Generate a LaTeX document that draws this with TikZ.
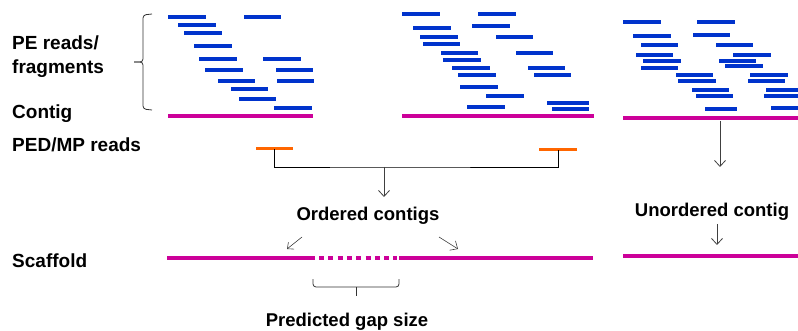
\documentclass[tikz,border=0pt]{standalone}
\usepackage{fontspec}
\setmainfont{Liberation Sans}
\usetikzlibrary{arrows.meta}
\usetikzlibrary{positioning}

\definecolor{readblue}{RGB}{0,51,204}
\definecolor{contigpink}{RGB}{204,0,153}
\definecolor{pairorange}{RGB}{255,102,0}

\tikzset{
  readline/.style={readblue,line width=3.2pt},
  contigline/.style={contigpink,line width=4pt},
  pairline/.style={pairorange,line width=3pt},
  sidelabel/.style={anchor=base west,inner sep=0pt,font=\bfseries\fontsize{19}{20}\selectfont},
  midlabel/.style={anchor=base,inner sep=0pt,font=\bfseries\fontsize{18.5}{20}\selectfont},
  flowarrow/.style={black!75,line width=0.8pt,-{Straight Barb[length=6pt,width=11pt]}},
  joinline/.style={black,line width=0.8pt},
  bracketline/.style={black!80,line width=0.8pt,rounded corners=3pt}
}

\begin{document}
\begin{tikzpicture}[x=1pt,y=-1pt]
\useasboundingbox (0,0) rectangle (798,331);

% labels on the left
\node[sidelabel] (pe) at (12,50){PE reads/};
\node[sidelabel] (frag) at (12,74){fragments};
\node[sidelabel] (ctg) at (12,119){Contig};
\node[sidelabel] (ped) at (12,152){PED/MP reads};
\node[sidelabel] (scf) at (12,268){Scaffold};

% bracket for the reads
\draw[bracketline] (152,14) -- (143,15) -- (143,62) -- (134,62);
\draw[bracketline] (152,110) -- (143,109) -- (143,62) -- (134,62);

% reads, first contig
\foreach \a/\b/\y in {168/206/17,244/281/17,178/216/25,184/222/33,194/232/46,199/237/59,263/301/59,205/243/70,276/313/70,218/255/81,277/314/81,231/268/89,239/276/99,274/312/108}
  \draw[readline] (\a,\y) -- (\b,\y);

% reads, second contig
\foreach \a/\b/\y in {402/440/14,478/516/14,413/451/28,472/510/26,420/458/37,496/533/37,423/460/44,441/478/53,516/553/53,443/481/60,452/490/68,528/565/68,458/496/75,534/571/75,460/498/87,486/524/96,547/589/103,467/505/107,552/589/109}
  \draw[readline] (\a,\y) -- (\b,\y);

% reads, third contig
\foreach \a/\b/\y in {623/661/22,697/735/22,633/671/36,693/730/35,641/678/45,716/753/45,636/673/55,733/771/55,643/681/61,719/756/61,641/678/68,725/763/66,676/713/75,750/788/75,678/716/81,748/785/81,692/729/90,766/800/90,696/733/96,764/800/96,705/737/109,771/800/108}
  \draw[readline] (\a,\y) -- (\b,\y);

% contigs
\draw[contigline] (168,116) -- (313,116);
\draw[contigline] (402,116) -- (594,116);
\draw[contigline] (623,118) -- (800,118);

% paired reads
\draw[pairline] (256,149) -- (293,149);
\draw[pairline] (539,150) -- (577,150);
\coordinate (pl) at (274,149);
\coordinate (pr) at (558,150);
\coordinate (pj) at (384,167);
\draw[joinline] (pl) |- (pj) -| (pr);

% ordered contigs
\node[midlabel] (oc) at (368,221){Ordered contigs};
\coordinate (ocin) at (384,197);
\draw[flowarrow] (pj) -- (ocin);

% scaffold
\draw[contigline] (167,258) -- (315,258);
\draw[contigline,dash pattern=on 5pt off 4.3pt] (319,258) -- (397,258);
\draw[contigline] (399,258) -- (593,258);
\coordinate (sl0) at (302,237);
\coordinate (sl1) at (287,249);
\coordinate (sr0) at (439,237);
\coordinate (sr1) at (458,249);
\draw[flowarrow,line width=0.6pt,{Straight Barb[length=5pt,width=9pt]}-] (sl1) -- (sl0);
\draw[flowarrow,line width=0.6pt] (sr0) -- (sr1);

% gap size
\draw[bracketline] (313,279) -- (313,287) -- (399,287) -- (399,279);
\draw[bracketline] (356,287) -- (356,296);
\node[midlabel] (gap) at (347,326){Predicted gap size};

% unordered contig
\coordinate (uc0) at (720,121);
\coordinate (uc1) at (720,167);
\draw[flowarrow] (uc0) -- (uc1);
\node[midlabel] (uc) at (712,217){Unordered contig};
\coordinate (us0) at (717,224);
\coordinate (us1) at (717,245);
\draw[flowarrow] (us0) -- (us1);
\draw[contigline] (623,256) -- (800,256);

\end{tikzpicture}
\end{document}
